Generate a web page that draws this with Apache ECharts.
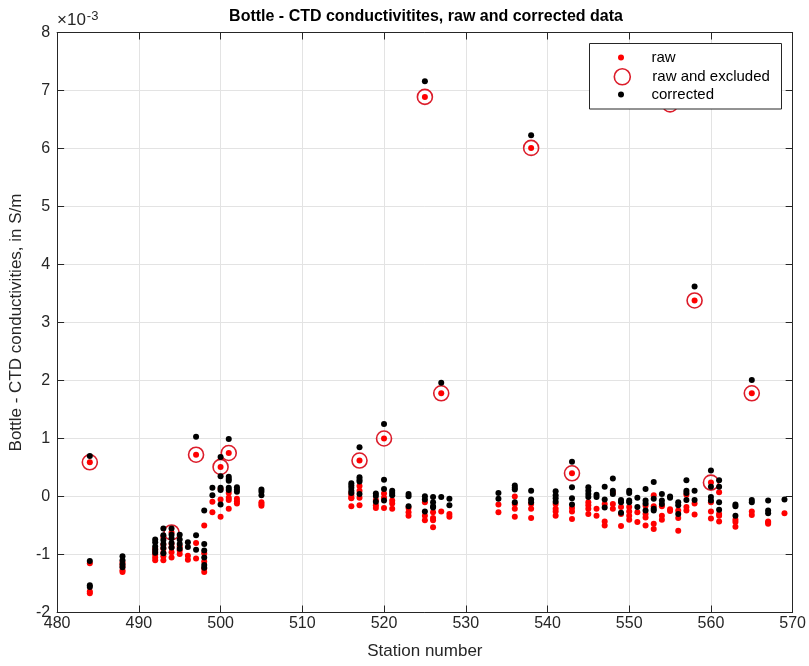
<!DOCTYPE html>
<html>
<head>
<meta charset="utf-8">
<script src="https://cdn.jsdelivr.net/npm/echarts@6/dist/echarts.min.js"></script>
<style>
  html, body { margin: 0; padding: 0; background: #fff; }
  #chart { width: 809px; height: 666px; }
</style>
</head>
<body>
<div id="chart"></div>
<script>
// Bottle minus CTD conductivity differences, in units of 1e-3 S/m, per station.
const stations = [484, 488, 492, 493, 494, 495, 496, 497, 498, 499, 500, 501, 502, 505,
  516, 517, 519, 520, 521, 523, 525, 526, 527, 528, 534, 536, 538, 541, 543, 545, 546,
  547, 548, 549, 550, 551, 552, 553, 554, 555, 556, 557, 558, 560, 561, 563, 565, 567, 569];

const rawValues = [
  [0.59, -1.15, -1.64, -1.67],
  [-1.14, -1.20, -1.27, -1.30],
  [-0.90, -0.95, -1.00, -1.05, -1.10],
  [-0.70, -0.83, -0.90, -0.97, -1.03, -1.10],
  [-0.62, -0.82, -0.88, -0.96, -1.05],
  [-0.86, -0.93, -0.99],
  [-1.02, -1.09],
  [0.72, -0.80, -1.07],
  [-0.50, -0.98, -1.12, -1.24, -1.30],
  [-0.09, -0.27],
  [0.51, 0.13, -0.05, -0.35],
  [0.75, 0.06, -0.02, -0.06, -0.21],
  [-0.04, -0.08, -0.12],
  [-0.10, -0.13, -0.16],
  [0.06, 0.02, -0.02, -0.03, -0.17],
  [0.62, 0.18, 0.10, -0.02, -0.15],
  [-0.06, -0.15, -0.20],
  [1.00, 0.05, -0.02, -0.20],
  [-0.07, -0.12, -0.21],
  [-0.20, -0.27, -0.33],
  [6.89, -0.10, -0.33, -0.41],
  [-0.27, -0.37, -0.41, -0.53],
  [1.78, -0.26],
  [-0.30, -0.35],
  [-0.14, -0.27],
  [0.00, -0.13, -0.21, -0.35],
  [6.01, -0.13, -0.21, -0.37],
  [-0.13, -0.21, -0.26, -0.33],
  [0.40, -0.20, -0.26, -0.39],
  [-0.10, -0.15, -0.21, -0.30],
  [-0.21, -0.33],
  [-0.13, -0.43, -0.50],
  [0.07, -0.13, -0.21],
  [-0.18, -0.30, -0.51],
  [-0.18, -0.26, -0.33, -0.40],
  [-0.27, -0.44],
  [-0.16, -0.30, -0.36, -0.50],
  [0.02, -0.17, -0.47, -0.56],
  [-0.17, -0.33, -0.40],
  [6.76, -0.22, -0.25],
  [-0.24, -0.37, -0.59],
  [0.03, -0.18, -0.24],
  [3.38, -0.12, -0.31],
  [0.24, -0.10, -0.26, -0.38],
  [0.075, -0.30, -0.33, -0.43],
  [-0.40, -0.44, -0.52],
  [1.78, -0.26, -0.32],
  [-0.43, -0.45, -0.47],
  [-0.29]
];

const correctedValues = [
  [0.70, -1.11, -1.53, -1.56],
  [-1.03, -1.10, -1.17, -1.22],
  [-0.74, -0.79, -0.86, -0.92, -0.97],
  [-0.55, -0.67, -0.75, -0.82, -0.89, -0.98],
  [-0.55, -0.66, -0.72, -0.80, -0.88],
  [-0.66, -0.74, -0.82, -0.90],
  [-0.79, -0.87],
  [1.03, -0.67, -0.92],
  [-0.24, -0.82, -0.93, -1.05, -1.18, -1.23],
  [0.15, 0.02],
  [0.68, 0.35, 0.15, 0.11, -0.14],
  [0.99, 0.34, 0.30, 0.27, 0.15, 0.11],
  [0.16, 0.12, 0.08],
  [0.12, 0.08, 0.02],
  [0.23, 0.19, 0.15, 0.10, 0.06],
  [0.85, 0.33, 0.29, 0.26, 0.045],
  [0.05, 0.01, -0.09],
  [1.25, 0.29, 0.13, -0.07],
  [0.10, 0.06, 0.02],
  [0.045, 0.005, -0.17],
  [7.16, 0.005, -0.05, -0.26],
  [-0.01, -0.10, -0.17, -0.19],
  [1.96, -0.01],
  [-0.04, -0.15],
  [0.06, -0.04],
  [0.19, 0.15, 0.12, -0.10],
  [6.23, 0.10, -0.05, -0.10],
  [0.09, 0.02, -0.03, -0.09],
  [0.60, 0.16, -0.03, -0.14],
  [0.16, 0.10, 0.045, -0.01],
  [0.03, -0.01],
  [0.17, -0.05, -0.19],
  [0.31, 0.10, 0.045],
  [-0.06, -0.10, -0.28],
  [0.10, 0.06, -0.07, -0.10],
  [-0.02, -0.18],
  [0.13, -0.07, -0.12, -0.24],
  [0.25, -0.04, -0.21, -0.24],
  [0.045, -0.07, -0.13],
  [7.00, 0.00, -0.02],
  [-0.10, -0.15, -0.30],
  [0.28, 0.10, 0.06, -0.06],
  [3.62, 0.10, -0.06],
  [0.45, 0.17, -0.01, -0.07],
  [0.28, 0.17, -0.10, -0.23],
  [-0.14, -0.17, -0.33],
  [2.01, -0.06, -0.10],
  [-0.07, -0.24, -0.29],
  [-0.05]
];

// Raw samples flagged and left out of the correction
const excludedStations = [484, 494, 497, 500, 501, 517, 520, 525, 527, 538, 543, 555, 558, 560, 565];
const excludedValues = [0.59, -0.62, 0.72, 0.51, 0.75, 0.62, 1.00, 6.89, 1.78, 6.01, 0.40, 6.76, 3.38, 0.24, 1.78];

const xTicks = { min: 480, max: 570, step: 10 };
const yTicks = { min: -2, max: 8, step: 1 };

function flatten(values) {
  const out = [];
  stations.forEach((s, i) => values[i].forEach(v => out.push([s, v])));
  return out;
}
const rawData = flatten(rawValues);
const correctedData = flatten(correctedValues);
const excludedData = excludedStations.map((s, i) => [s, excludedValues[i]]);

const FONT = '"Liberation Sans", Arial, Helvetica, sans-serif';
const AXIS = '#262626';
const GRID = '#e3e3e3';
const RED = '#ff0000';
const RING = '#dc1c2a';

const chart = echarts.init(document.getElementById('chart'), null, { renderer: 'canvas' });

// Top and right axes only close the box and carry inward ticks
const boxAxis = {
  axisLine: { show: true, onZero: false, lineStyle: { color: AXIS, width: 1 } },
  axisTick: { show: true, inside: true, length: 7, lineStyle: { color: AXIS } },
  axisLabel: { show: false },
  splitLine: { show: false }
};

chart.setOption({
  animation: false,
  backgroundColor: '#fff',
  textStyle: { fontFamily: FONT },
  title: {
    text: 'Bottle - CTD conductivitites, raw and corrected data',
    left: 426, top: 9, textAlign: 'center', padding: 0,
    textStyle: { fontSize: 16, fontWeight: 'bold', color: '#000', fontFamily: FONT }
  },
  grid: { left: 56.5, right: 14, top: 32.5, bottom: 53.5, containLabel: false },
  xAxis: [{
    type: 'value', min: xTicks.min, max: xTicks.max, interval: xTicks.step,
    name: 'Station number', nameLocation: 'middle', nameGap: 30,
    nameTextStyle: { fontSize: 17, color: AXIS, fontFamily: FONT },
    axisLine: { show: true, onZero: false, lineStyle: { color: AXIS, width: 1 } },
    axisTick: { show: true, inside: true, length: 7, lineStyle: { color: AXIS } },
    axisLabel: { fontSize: 16, color: AXIS, margin: 3, fontFamily: FONT },
    splitLine: { show: true, lineStyle: { color: GRID, width: 1 } }
  }, Object.assign({
    type: 'value', position: 'top', min: xTicks.min, max: xTicks.max, interval: xTicks.step
  }, boxAxis)],
  yAxis: [{
    type: 'value', min: yTicks.min, max: yTicks.max, interval: yTicks.step,
    name: 'Bottle - CTD conductivities, in S/m', nameLocation: 'middle', nameGap: 30,
    nameTextStyle: { fontSize: 17, color: AXIS, fontFamily: FONT },
    axisLine: { show: true, onZero: false, lineStyle: { color: AXIS, width: 1 } },
    axisTick: { show: true, inside: true, length: 7, lineStyle: { color: AXIS } },
    axisLabel: { fontSize: 16, color: AXIS, margin: 7, fontFamily: FONT },
    splitLine: { show: true, lineStyle: { color: GRID, width: 1 } }
  }, Object.assign({
    type: 'value', position: 'right', min: yTicks.min, max: yTicks.max, interval: yTicks.step
  }, boxAxis)],
  legend: [
    {
      data: [{ name: 'raw', icon: 'circle' }],
      left: 618, top: 50, padding: 0, itemWidth: 6, itemHeight: 6, z: 100,
      selectedMode: false,
      textStyle: { fontSize: 15, color: '#000', fontFamily: FONT, padding: [0, 0, 0, 22.5] }
    },
    {
      data: [{ name: 'raw and excluded', icon: 'circle' }],
      left: 613.5, top: 68, padding: 0, itemWidth: 16, itemHeight: 16, z: 100,
      selectedMode: false,
      itemStyle: { color: 'transparent', borderColor: RING, borderWidth: 1.6 },
      textStyle: { fontSize: 15, color: '#000', fontFamily: FONT, padding: [0, 0, 0, 17] }
    },
    {
      data: [{ name: 'corrected', icon: 'circle' }],
      left: 618, top: 87, padding: 0, itemWidth: 6, itemHeight: 6, z: 100,
      selectedMode: false,
      textStyle: { fontSize: 15, color: '#000', fontFamily: FONT, padding: [0, 0, 0, 22.5] }
    }
  ],
  graphic: [
    {
      type: 'rect', z: 90, silent: true,
      shape: { x: 589.5, y: 43.5, width: 192, height: 65.5 },
      style: { fill: '#fff', stroke: AXIS, lineWidth: 1 }
    },
    {
      type: 'text', z: 90, silent: true, left: 57, top: 10,
      style: {
        text: '×10{s|-3}', fill: AXIS, font: '17px ' + FONT,
        rich: { s: { fontSize: 13, fill: AXIS, fontFamily: FONT, verticalAlign: 'top', padding: [0, 0, 8, 1] } }
      }
    }
  ],
  series: [
    {
      name: 'raw', type: 'scatter', data: rawData, symbol: 'circle', symbolSize: 6,
      itemStyle: { color: RED, opacity: 1 }, z: 2
    },
    {
      name: 'raw and excluded', type: 'scatter', data: excludedData, symbol: 'circle', symbolSize: 15,
      itemStyle: { color: 'rgba(0,0,0,0)', borderColor: RING, borderWidth: 1.6, opacity: 1 }, z: 3
    },
    {
      name: 'corrected', type: 'scatter', data: correctedData, symbol: 'circle', symbolSize: 6,
      itemStyle: { color: '#000', opacity: 1 }, z: 4
    }
  ]
});
</script>
</body>
</html>
